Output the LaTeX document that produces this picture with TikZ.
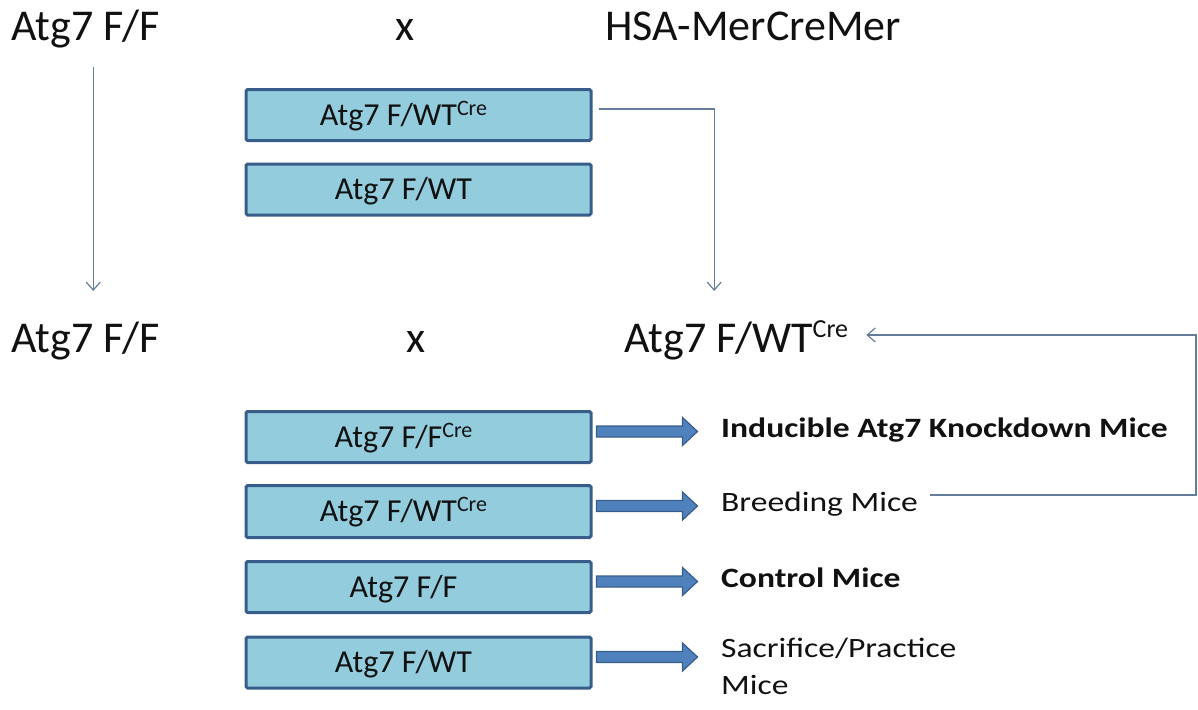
\documentclass[tikz,border=0pt]{standalone}
\usepackage{fontspec}
\setmainfont{Carlito}
\newfontfamily\labelfont[FakeStretch=1.2]{Carlito}
\usetikzlibrary{arrows.meta,calc}
\definecolor{boxfill}{RGB}{147,205,221}
\definecolor{boxline}{RGB}{56,93,138}
\definecolor{arrowfill}{RGB}{79,129,189}
\definecolor{thinline}{RGB}{100,125,155}
\definecolor{ink}{RGB}{17,17,17}
% raised "Cre" tag: #1 font size, #2 raise in pt
\newcommand\cresup[2]{\raisebox{#2pt}{\fontsize{#1}{#1}\selectfont Cre}}
% thick block arrow leaving the right side of a genotype box
\newcommand\blockarrowfrom[1]{%
  \draw[blockarrow] ([shift={(4,-11)}]#1.east) -- ++(86,0) -- ++(0,-8.5)
    -- ++(15,14) -- ++(-15,14) -- ++(0,-8.5) -- ++(-86,0) -- cycle;}

\begin{document}
\begin{tikzpicture}[x=1pt,y=-1pt,
  big/.style={anchor=base west, inner sep=0pt, text=ink,
    font=\fontsize{44}{48}\selectfont},
  cross/.style={big, anchor=base},
  genobox/.style={draw=boxline, line width=3pt, fill=boxfill,
    rounded corners=1.5pt, minimum width=345pt, minimum height=51pt,
    inner sep=0pt, text height=20.6pt, text depth=0pt, text=ink,
    font=\fontsize{32}{36}\selectfont},
  outcome/.style={anchor=base west, inner sep=0pt, text=ink, align=left,
    font=\labelfont\fontsize{28}{37}\selectfont},
  outcomebold/.style={outcome, font=\labelfont\bfseries\fontsize{28}{37}\selectfont},
  link/.style={draw=thinline, line width=1.2pt},
  linkarrow/.style={link, -{Straight Barb[length=8pt,width=14pt,line width=1.2pt]}},
  blockarrow/.style={draw=boxline, line width=1.2pt, fill=arrowfill, line join=miter}
]
\useasboundingbox (0,0) rectangle (1198,709);

% first cross
\node[big] (p1) at (11,41) {Atg7 F/F};
\node[cross] (x1) at (405,41) {x};
\node[big] (p2) at (605,41) {HSA-MerCreMer};

\node[genobox] (g1) at (418.5,115) {Atg7 F/WT\cresup{22}{10}\hspace*{30pt}};
\node[genobox] (g2) at (418.5,189.5) {Atg7 F/WT\hspace*{30pt}};

% second cross
\node[big] (p3) at (11,352) {Atg7 F/F};
\node[cross] (x2) at (416,352) {x};
\node[big] (p4) at (624,352) {Atg7 F/WT\cresup{26}{15}};

\node[genobox] (g3) at (418.5,437) {Atg7 F/F\cresup{22}{10}\hspace*{30pt}};
\node[genobox, minimum height=52pt] (g4) at (418.5,511.5) {Atg7 F/WT\cresup{22}{10}\hspace*{30pt}};
\node[genobox] (g5) at (418.5,587) {Atg7 F/F\hspace*{30pt}};
\node[genobox] (g6) at (418.5,662.5) {Atg7 F/WT\hspace*{30pt}};

% outcomes (a two-line node sits on the baseline of its last line)
\node[outcomebold] (o1) at (721,437) {Inducible Atg7 Knockdown Mice};
\node[outcome] (o2) at (721,511) {Breeding Mice};
\node[outcomebold] (o3) at (721,587) {Control Mice};
\node[outcome] (o4) at (721,694) {Sacrifice/Practice\\Mice};

\blockarrowfrom{g3}
\blockarrowfrom{g4}
\blockarrowfrom{g5}
\blockarrowfrom{g6}

% thin connectors
\draw[linkarrow] ([shift={(8,26)}]p1.base) -- ([shift={(8,-61)}]p3.base);
\draw[linkarrow] ([shift={(6,-6)}]g1.east) -| ([shift={(-22,-61)}]p4.base);

\coordinate (rail) at (1196,0);
\coordinate (brd) at ([shift={(12,-16)}]o2.base east);
\coordinate (tip) at ([shift={(18,-17)}]p4.base east);
\draw[linkarrow] (brd) -- (brd -| rail) -- (rail |- tip) -- (tip);
\end{tikzpicture}
\end{document}
